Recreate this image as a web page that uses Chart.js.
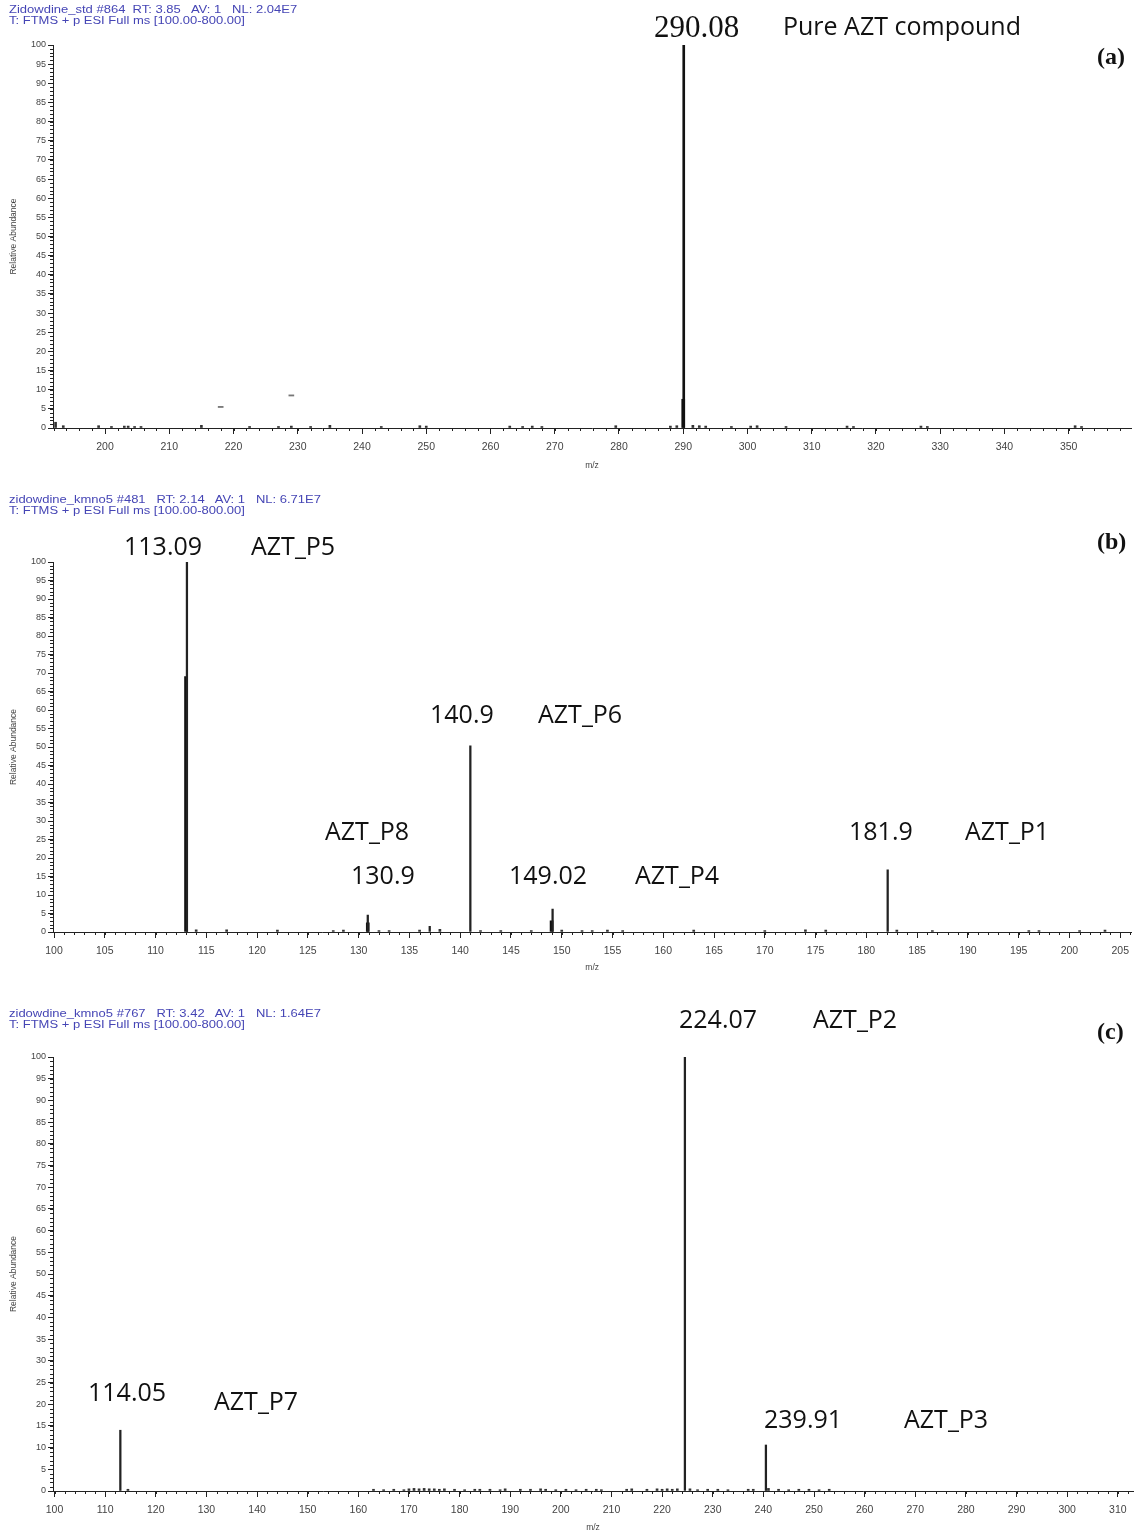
<!DOCTYPE html>
<html>
<head>
<meta charset="utf-8">
<script src="https://cdn.jsdelivr.net/npm/chart.js@4/dist/chart.umd.min.js"></script>
<style>
  body { margin: 0; background: #fff; }
  #fig { position: relative; width: 1136px; height: 1535px; background: #fff; overflow: hidden; }
  .panel { position: absolute; left: 0; width: 1136px; }
  .hdr { position: absolute; font-family: "Liberation Sans", Arial, sans-serif; font-size: 10px; line-height: 11px; color: #4545b5; white-space: nowrap; transform: scaleX(1.3); transform-origin: left top; }
  .lbl { position: absolute; font-family: "Open Sans", sans-serif; font-size: 25px; line-height: 1; color: #111; white-space: nowrap; transform: translateY(-50%); }
  .serif { font-family: "Liberation Serif", "Times New Roman", serif; }
  .tag { font-family: "Liberation Serif", "Times New Roman", serif; font-weight: bold; font-size: 24px; }
</style>
</head>
<body>
<div id="fig">
  <div class="panel" style="top:0;height:480px"><canvas id="chartA"></canvas></div>
  <div class="panel" style="top:490px;height:490px"><canvas id="chartB"></canvas></div>
  <div class="panel" style="top:1000px;height:535px"><canvas id="chartC"></canvas></div>

  <div class="hdr" style="left:9px;top:4px">Zidowdine_std #864&nbsp; RT: 3.85&nbsp;&nbsp; AV: 1&nbsp;&nbsp; NL: 2.04E7<br>T: FTMS + p ESI Full ms [100.00-800.00]</div>
  <div class="hdr" style="left:9px;top:494px">zidowdine_kmno5 #481&nbsp;&nbsp; RT: 2.14&nbsp;&nbsp; AV: 1&nbsp;&nbsp; NL: 6.71E7<br>T: FTMS + p ESI Full ms [100.00-800.00]</div>
  <div class="hdr" style="left:9px;top:1008px">zidowdine_kmno5 #767&nbsp;&nbsp; RT: 3.42&nbsp;&nbsp; AV: 1&nbsp;&nbsp; NL: 1.64E7<br>T: FTMS + p ESI Full ms [100.00-800.00]</div>

  <div class="lbl serif" style="left:654px;top:26px;font-size:31px">290.08</div>
  <div class="lbl" style="left:783px;top:25px">Pure AZT compound</div>
  <div class="lbl tag" style="left:1097px;top:56px">(a)</div>

  <div class="lbl" style="left:124px;top:545px">113.09</div>
  <div class="lbl" style="left:251px;top:545px">AZT_P5</div>
  <div class="lbl tag" style="left:1097px;top:541px">(b)</div>
  <div class="lbl" style="left:430px;top:713px">140.9</div>
  <div class="lbl" style="left:538px;top:713px">AZT_P6</div>
  <div class="lbl" style="left:325px;top:830px">AZT_P8</div>
  <div class="lbl" style="left:351px;top:874px">130.9</div>
  <div class="lbl" style="left:509px;top:874px">149.02</div>
  <div class="lbl" style="left:635px;top:874px">AZT_P4</div>
  <div class="lbl" style="left:849px;top:830px">181.9</div>
  <div class="lbl" style="left:965px;top:830px">AZT_P1</div>

  <div class="lbl" style="left:679px;top:1018px">224.07</div>
  <div class="lbl" style="left:813px;top:1018px">AZT_P2</div>
  <div class="lbl tag" style="left:1097px;top:1031px">(c)</div>
  <div class="lbl" style="left:88px;top:1391px">114.05</div>
  <div class="lbl" style="left:214px;top:1400px">AZT_P7</div>
  <div class="lbl" style="left:764px;top:1418px">239.91</div>
  <div class="lbl" style="left:904px;top:1418px">AZT_P3</div>
</div>

<script>
// ---- (a) pure AZT
const peakMzA = [290.08];
const peakAbA = [100];
const baseMzA = [290.0];
const baseAbA = [7.5];
const noiseMzA = [192.3, 193.5, 199, 201, 203, 203.6, 204.6, 205.6, 215, 222.5, 227, 229, 232, 235, 243, 249, 250,
  263, 265, 266.5, 268, 279.5, 288, 289, 291.5, 292.5, 293.5, 297.5, 300.5, 301.5, 306, 315.5, 316.5, 327, 328, 351, 352];
const noiseAbA = [1.5, 0.6, 0.6, 0.4, 0.5, 0.5, 0.4, 0.4, 0.7, 0.4, 0.4, 0.5, 0.4, 0.7, 0.4, 0.6, 0.5,
  0.5, 0.4, 0.5, 0.4, 0.6, 0.5, 0.6, 0.7, 0.6, 0.5, 0.4, 0.5, 0.6, 0.4, 0.5, 0.4, 0.5, 0.4, 0.6, 0.4];
const dashMzA = [218, 229];
const dashAbA = [5.5, 8.5];
const xTicksA = [200, 210, 220, 230, 240, 250, 260, 270, 280, 290, 300, 310, 320, 330, 340, 350];

// ---- (b) KMnO4, RT 2.14
const peakMzB = [113.09, 130.9, 137.0, 141.0, 149.1, 182.1];
const peakAbB = [100, 4.6, 1.5, 50.3, 6.2, 16.8];
const baseMzB = [113.0, 130.9, 149.0];
const baseAbB = [69, 2.5, 3];
const noiseMzB = [114, 117, 122, 127.5, 128.5, 132, 133, 136, 138, 142, 144, 147, 150, 152, 153, 154.5, 156,
  163, 170, 174, 176, 183, 186.5, 196, 197, 201, 203.5];
const noiseAbB = [0.6, 0.6, 0.5, 0.4, 0.5, 0.4, 0.4, 0.5, 0.7, 0.4, 0.4, 0.4, 0.5, 0.4, 0.4, 0.5, 0.4,
  0.5, 0.4, 0.6, 0.5, 0.5, 0.4, 0.4, 0.4, 0.4, 0.5];
const xTicksB = [100, 105, 110, 115, 120, 125, 130, 135, 140, 145, 150, 155, 160, 165, 170, 175, 180, 185, 190, 195, 200, 205];

// ---- (c) KMnO4, RT 3.42
const peakMzC = [113.0, 224.5, 240.5];
const peakAbC = [14.0, 100, 10.6];
const noiseMzC = [114.5, 163, 165, 167, 169, 170, 171, 172, 173, 174, 175, 176, 177, 179, 181, 183, 184, 186, 188,
  189, 192, 194, 196, 197, 199, 201, 203, 205, 207, 208, 213, 214, 217, 219, 220, 221, 222, 223, 225.5, 227,
  229, 231, 233, 237, 238, 241, 243, 245, 247, 249, 251, 253];
const noiseAbC = [0.4, 0.4, 0.3, 0.4, 0.3, 0.5, 0.6, 0.5, 0.6, 0.5, 0.5, 0.4, 0.5, 0.4, 0.3, 0.4, 0.4, 0.4, 0.3,
  0.5, 0.4, 0.4, 0.5, 0.4, 0.3, 0.4, 0.3, 0.4, 0.4, 0.3, 0.4, 0.5, 0.4, 0.5, 0.4, 0.5, 0.4, 0.5, 0.5, 0.3,
  0.4, 0.4, 0.3, 0.4, 0.4, 0.6, 0.4, 0.3, 0.4, 0.4, 0.3, 0.4];
const xTicksC = [100, 110, 120, 130, 140, 150, 160, 170, 180, 190, 200, 210, 220, 230, 240, 250, 260, 270, 280, 290, 300, 310];

const yTicks = [0, 5, 10, 15, 20, 25, 30, 35, 40, 45, 50, 55, 60, 65, 70, 75, 80, 85, 90, 95, 100];

const AXIS = "#222";
const toPts = (xs, ys) => xs.map((x, i) => ({ x, y: ys[i] }));

// small ticks between labelled ones, placed through the scales
const minorTicks = {
  id: "minorTicks",
  afterDraw(chart, args, opts) {
    const { ctx, scales: { x, y }, chartArea } = chart;
    ctx.save();
    ctx.strokeStyle = AXIS;
    ctx.lineWidth = 1;
    ctx.beginPath();
    const first = Math.ceil(x.min / opts.xStep) * opts.xStep;
    for (let v = first; v <= x.max; v += opts.xStep) {
      const px = Math.round(x.getPixelForValue(v)) + 0.5;
      ctx.moveTo(px, chartArea.bottom);
      ctx.lineTo(px, chartArea.bottom + 3);
    }
    for (let v = 0; v <= 100; v += 1) {
      const py = Math.round(y.getPixelForValue(v)) + 0.5;
      ctx.moveTo(chartArea.left - 3, py);
      ctx.lineTo(chartArea.left, py);
    }
    ctx.stroke();
    ctx.restore();
  }
};

function barSet(data, thickness, color) {
  return {
    type: "bar",
    data,
    barThickness: thickness,
    backgroundColor: color,
    borderWidth: 0,
    grouped: false
  };
}

function makeChart(id, datasets, xMin, xMax, xTicks, minorStep, padTop, padRight, xAxisH, titlePad) {
  return new Chart(document.getElementById(id), {
    type: "bar",
    data: { datasets },
    options: {
      responsive: true,
      maintainAspectRatio: false,
      animation: false,
      devicePixelRatio: 1,
      layout: { padding: { top: padTop, right: padRight, left: 0, bottom: 0 } },
      plugins: {
        legend: { display: false },
        tooltip: { enabled: false },
        minorTicks: { xStep: minorStep }
      },
      scales: {
        x: {
          type: "linear",
          min: xMin,
          max: xMax,
          offset: false,
          afterBuildTicks: s => { s.ticks = xTicks.map(v => ({ value: v })); },
          afterFit: s => { s.height = xAxisH; },
          grid: { display: true, drawOnChartArea: false, offset: false, tickLength: 6, tickColor: AXIS },
          border: { display: true, color: AXIS, width: 1 },
          ticks: {
            autoSkip: false, maxRotation: 0, padding: 7, color: "#444",
            font: { family: "Liberation Sans, Arial, sans-serif", size: 10.5 }
          },
          title: {
            display: true, text: "m/z", color: "#444",
            font: { family: "Liberation Sans, Arial, sans-serif", size: 8.5 },
            padding: { top: 0, bottom: titlePad }
          }
        },
        y: {
          min: 0,
          max: 100,
          afterBuildTicks: s => { s.ticks = yTicks.map(v => ({ value: v })); },
          afterFit: s => { s.width = 53; },
          grid: { display: true, drawOnChartArea: false, tickLength: 5, tickColor: AXIS },
          border: { display: true, color: AXIS, width: 1 },
          ticks: {
            autoSkip: false, padding: 2, color: "#444",
            font: { family: "Liberation Sans, Arial, sans-serif", size: 9 }
          },
          title: {
            display: true, text: "Relative Abundance", color: "#444",
            font: { family: "Liberation Sans, Arial, sans-serif", size: 8.5 },
            padding: { top: 9, bottom: 0 }
          }
        }
      }
    },
    plugins: [minorTicks]
  });
}

document.addEventListener("DOMContentLoaded", () => {
  makeChart("chartA", [
    barSet(toPts(peakMzA, peakAbA), 2, "#111"),
    barSet(toPts(baseMzA, baseAbA), 3, "#111"),
    barSet(toPts(noiseMzA, noiseAbA), 2, "#333"),
    barSet(dashMzA.map((x, i) => ({ x, y: [dashAbA[i] - 0.15, dashAbA[i] + 0.15] })), 5, "#777")
  ], 191.9, 359.7, xTicksA, 2, 45, 5, 52, 9);

  makeChart("chartB", [
    barSet(toPts(peakMzB, peakAbB), 1.6, "#222"),
    barSet(toPts(baseMzB, baseAbB), 3, "#111"),
    barSet(toPts(noiseMzB, noiseAbB), 2, "#333")
  ], 99.9, 206.1, xTicksB, 1, 72, 2, 48, 7);

  makeChart("chartC", [
    barSet(toPts(peakMzC, peakAbC), 1.6, "#222"),
    barSet(toPts(noiseMzC, noiseAbC), 2, "#333")
  ], 99.7, 313, xTicksC, 2, 57, 3, 44, 2);
});
</script>
</body>
</html>
